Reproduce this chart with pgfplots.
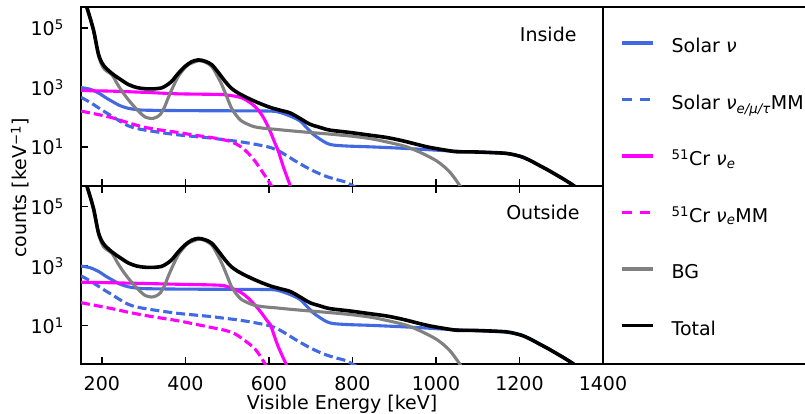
\documentclass[border=0pt]{standalone}
\usepackage{fontspec}
\setmainfont{DejaVu Sans}
\usepackage{pgfplots}
\usepackage{pgfplotstable}
\pgfplotsset{compat=1.18}
\definecolor{solarblue}{RGB}{65,105,225}
\definecolor{crmag}{RGB}{255,0,255}
\definecolor{bggray}{RGB}{128,128,128}

\pgfplotstableread{
x y
150 2000000
165 450000
180 85000
192 13000
204 5600
224 3000
244 1900
264 1260
284 1000
304 912
324 905
343 977
355 1200
367 1620
383 3000
399 5130
415 7400
431 8510
447 7700
463 5890
479 3200
495 1620
510 950
526 661
546 470
566 347
586 265
606 209
628 172
651 140
675 91
698 58.9
722 46
746 37.2
794 31
842 25.1
882 21
921 16.2
961 11.7
985 9.77
1018 8.1
1049 7.0
1088 6.9
1128 6.6
1168 6.17
1190 5.4
1208 4.57
1228 3.4
1248 2.40
1268 1.7
1288 1.17
1308 0.8
1327 0.54
1345 0.35
}\totaldata

\pgfplotstableread{
x y
150 2000000
165 450000
180 85000
192 12000
204 4470
224 2690
236 1400
248 759
264 380
280 209
292 140
304 102
319 91.2
330 100
340 126
350 220
359 457
371 1100
383 2400
395 4000
407 5890
431 7940
447 7200
463 5130
475 2700
487 1260
499 500
510 209
522 115
534 75.9
550 58
566 47.9
590 42.5
614 39.8
650 35.5
699 30.9
750 27
802 22.9
850 18.5
905 12.6
930 10.2
953 7.59
978 5.2
1001 3.47
1018 2.3
1033 1.45
1046 0.85
1057 0.51
1070 0.28
}\bgdata

\pgfplotstableread{
x y
150 1000
172 880
192 661
208 470
224 347
244 245
264 200
284 182
304 174
400 168
500 166
603 162
627 145
651 110
674 76
690 45.7
706 27
722 18.6
738 13.6
754 11.7
790 10.8
842 10.2
900 9.4
961 8.51
1020 7.6
1080 6.92
1128 6.55
1168 6.1
1190 5.4
1208 4.57
1228 3.4
1248 2.40
1268 1.7
1288 1.17
1308 0.8
1327 0.54
1345 0.35
}\solardata

\pgfplotstableread{
x y
150 470
170 330
192 209
208 150
224 110
244 73
264 51.3
284 42
304 37.2
343 30.5
383 25.7
423 22.6
463 20.0
495 17.5
526 15.5
565 12.6
603 9.77
622 7.6
643 5.13
662 3.5
682 2.40
702 1.7
722 1.26
742 0.98
762 0.81
785 0.66
801 0.5
815 0.4
}\solarmmdata

\pgfplotstableread{
x y
150 794
224 759
304 690
383 617
479 589
500 560
519 513
535 450
550 347
566 235
582 126
594 64
606 26.9
614 14
622 7.59
636 1.9
651 0.51
660 0.25
}\crindata

\pgfplotstableread{
x y
150 162
190 125
224 97.7
264 65
304 45.7
343 37
383 30.9
423 25
463 20.9
503 16.2
520 13
535 9.77
550 6.3
566 3.47
582 1.65
598 0.76
610 0.4
}\crmmindata

\pgfplotstableread{
x y
150 288
224 275
304 260
383 245
479 229
500 205
519 162
535 125
550 85.1
566 50
582 26.9
595 15
603 11
613 4.5
622 2.0
639 0.59
650 0.3
}\croutdata

\pgfplotstableread{
x y
150 58.9
190 46
224 37.2
264 28
304 21.9
343 17.8
383 14.5
423 11.2
463 8.6
490 7.2
511 5.89
527 4.5
543 3.09
555 2.3
567 1.62
578 1.0
586 0.66
598 0.35
}\crmmoutdata

\begin{document}
\begin{tikzpicture}[x=1pt,y=1pt]
\useasboundingbox (0,0) rectangle (805,414);

% bottom panel (Outside)
\begin{axis}[at={(81pt,49.7pt)}, anchor=south west,
    scale only axis, width=522pt, height=178.5pt,
    xmin=150, xmax=1400, ymode=log, ymin=0.5, ymax=5e5,
    axis line style={line width=1.8pt},
    tick style={line width=1.5pt, black},
    tick align=inside, major tick length=7pt,
    ytick={10,1000,100000},
    yticklabels={10\textsuperscript{1},10\textsuperscript{3},10\textsuperscript{5}},
    yminorticks=false, xminorticks=false,
    xtick={200,400,600,800,1000,1200,1400},
    ytick pos=left,
    tick label style={font=\fontsize{19}{22}\selectfont},
    yticklabel style={inner sep=0pt, anchor=east, xshift=-17pt},
    xticklabel style={inner sep=0pt, anchor=north, yshift=-12.4pt},
    xtick pos=both, xticklabel pos=left,
    xticklabels={200,400,600,800,1000,1200,1400}]
\addplot[solarblue, line width=3.1pt, smooth] table {\solardata};
\addplot[solarblue, line width=3.1pt, smooth, dash pattern=on 9pt off 4pt] table {\solarmmdata};
\addplot[crmag, line width=3.1pt, smooth] table {\croutdata};
\addplot[crmag, line width=3.1pt, smooth, dash pattern=on 9pt off 4pt] table {\crmmoutdata};
\addplot[bggray, line width=3.1pt, smooth] table {\bgdata};
\addplot[black, line width=3.6pt, smooth] table {\totaldata};
\node[anchor=base east, font=\fontsize{19}{22}\selectfont] at (rel axis cs:0.962,0.8135) {Outside};
\end{axis}

% top panel (Inside)
\begin{axis}[at={(81pt,228.2pt)}, anchor=south west,
    scale only axis, width=522pt, height=178.5pt,
    xmin=150, xmax=1400, ymode=log, ymin=0.5, ymax=5e5,
    axis line style={line width=1.8pt},
    tick style={line width=1.5pt, black},
    tick align=inside, major tick length=7pt,
    ytick={10,1000,100000},
    yticklabels={10\textsuperscript{1},10\textsuperscript{3},10\textsuperscript{5}},
    yminorticks=false, xminorticks=false,
    xtick={200,400,600,800,1000,1200,1400},
    ytick pos=left,
    tick label style={font=\fontsize{19}{22}\selectfont},
    yticklabel style={inner sep=0pt, anchor=east, xshift=-17pt},
    xtick pos=left, xticklabels={}]
\addplot[solarblue, line width=3.1pt, smooth] table {\solardata};
\addplot[solarblue, line width=3.1pt, smooth, dash pattern=on 9pt off 4pt] table {\solarmmdata};
\addplot[crmag, line width=3.1pt, smooth] table {\crindata};
\addplot[crmag, line width=3.1pt, smooth, dash pattern=on 9pt off 4pt] table {\crmmindata};
\addplot[bggray, line width=3.1pt, smooth] table {\bgdata};
\addplot[black, line width=3.6pt, smooth] table {\totaldata};
\node[anchor=base east, font=\fontsize{19}{22}\selectfont] at (rel axis cs:0.956,0.8075) {Inside};
\end{axis}

% legend box
\begin{axis}[scale only axis, at={(603pt,49.7pt)}, anchor=south west,
  width=300pt, height=357pt, xmin=0, xmax=1, ymin=0, ymax=1,
  xtick=\empty, ytick=\empty,
  axis line style={line width=1.8pt},
  legend image code/.code={\draw[#1] (0pt,0pt) -- (31pt,0pt);},
  legend style={at={(rel axis cs:0,1)}, anchor=north west,
    xshift=17pt, yshift=-22.4pt, draw=none, fill=none,
    inner sep=0pt, outer sep=0pt, row sep=29.9pt, column sep=15pt,
    font=\fontsize{19}{22}\selectfont,
    cells={anchor=west, inner sep=0pt}},
]
\addlegendimage{solarblue, line width=3.1pt}
\addlegendentry{\rule[-7.5pt]{0pt}{28.6pt}Solar \textit{ν}}
\addlegendimage{solarblue, line width=3.1pt, dash pattern=on 10pt off 8pt}
\addlegendentry{\rule[-7.5pt]{0pt}{28.6pt}Solar \textit{ν}\textsubscript{\textit{e/μ/τ}}MM}
\addlegendimage{crmag, line width=3.1pt}
\addlegendentry{\rule[-7.5pt]{0pt}{28.6pt}\textsuperscript{51}Cr \textit{ν}\textsubscript{\textit{e}}}
\addlegendimage{crmag, line width=3.1pt, dash pattern=on 10pt off 8pt}
\addlegendentry{\rule[-7.5pt]{0pt}{28.6pt}\textsuperscript{51}Cr \textit{ν}\textsubscript{\textit{e}}MM}
\addlegendimage{bggray, line width=3.1pt}
\addlegendentry{\rule[-7.5pt]{0pt}{28.6pt}BG}
\addlegendimage{black, line width=3.6pt}
\addlegendentry{\rule[-7.5pt]{0pt}{28.6pt}Total}
\end{axis}

\node[rotate=90, anchor=base, font=\fontsize{19}{22}\selectfont] at (27,226) {counts [keV\textsuperscript{−1}]};
\node[anchor=base, font=\fontsize{19}{22}\selectfont] at (342,4) {Visible Energy [keV]};
\end{tikzpicture}
\end{document}
